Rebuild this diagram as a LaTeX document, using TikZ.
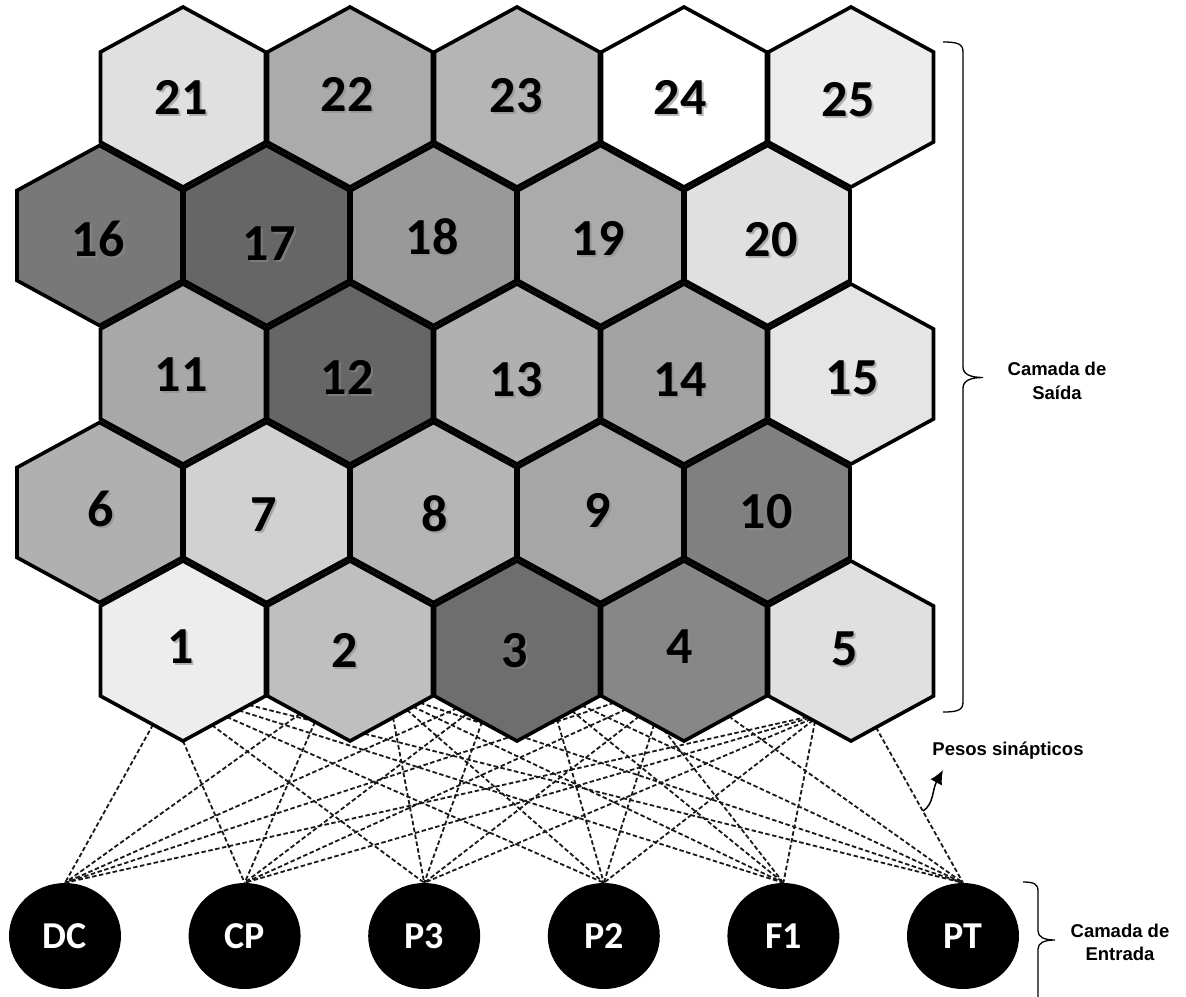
\documentclass[tikz,border=0pt]{standalone}
\usepackage{fontspec}
\setmainfont{Liberation Sans}
\newfontfamily\calib{Carlito}
\usetikzlibrary{shapes.geometric,arrows.meta}
\begin{document}
\begin{tikzpicture}[x=1pt,y=-1pt,
  hexcell/.style={draw=black, line width=3.6pt, line join=miter},
  hexnum/.style={font=\calib\bfseries\fontsize{52}{52}\selectfont, inner sep=0pt},
  hexshadow/.style={hexnum, text=black!45, opacity=0.6},
  innode/.style={ellipse, fill=black, minimum width=112pt, minimum height=106pt, inner sep=0pt, text=white, font=\calib\bfseries\fontsize{38}{38}\selectfont},
  weight/.style={line width=1.8pt, dash pattern=on 4.5pt off 2.5pt, black!90},
  lbl/.style={font=\bfseries\fontsize{18.5}{24}\selectfont, inner sep=0pt, anchor=base},
  bracecurve/.style={line width=1.3pt},
]
\useasboundingbox (0,0) rectangle (1186,996);

% input layer
\foreach \j/\t/\x in {1/DC/65, 2/CP/244.6, 3/P3/424.2, 4/P2/603.8, 5/F1/783.4, 6/PT/963}
  \node[innode] (in\j) at (\x,936) {\t};

% synaptic weights
\foreach \i/\cx/\offs in {1/183/{-30,0,29,44,56,66}, 2/350/{-50,-35,43,57,63,70}, 3/517/{-60,-50,-35,40,55,65}, 4/684/{-70,-58,-45,-30,-20,45}, 5/851/{-44,-42,-40,-38,-36,25}}{
  \foreach \d [count=\j] in \offs {
    \coordinate (w\i\j) at ({\cx+\d},{741-0.545*abs(\d)});
    \draw[weight] (w\i\j) -- (in\j.north);
  }
}

% output layer (hexagons)
\foreach \cx/\cy/\g/\n/\lx/\ly in {
  183/651/7/1/181/647, 350/651/25/2/345/650, 517/651/57/3/515/651, 684/651/47/4/680/647, 851/651/12/5/845/649,
  99.5/512.5/31/6/101/509, 266.5/512.5/18/7/264/515, 433.5/512.5/29/8/435/514, 600.5/512.5/35/9/598/510, 767.5/512.5/50/10/766/512,
  183/374/34/11/181/375, 350/374/60/12/347/377, 517/374/31/13/516/380, 684/374/36/14/680/380, 851/374/10/15/852/378,
  99.5/235.5/53/16/98/239, 266.5/235.5/60/17/269/244, 433.5/235.5/40/18/432/237, 600.5/235.5/33/19/598/238, 767.5/235.5/12/20/771/240,
  183/97/12/21/181/97, 350/97/33/22/347/94, 517/97/29/23/516/96, 684/97/0/24/680/97, 851/97/7/25/848/100}{
  \path[hexcell, fill=black!\g] (\cx,\cy-90) -- (\cx+82.5,\cy-45) -- (\cx+82.5,\cy+45) -- (\cx,\cy+90) -- (\cx-82.5,\cy+45) -- (\cx-82.5,\cy-45) -- cycle;
  \node[hexshadow] (s\n) at (\lx+2,\ly+2) {\n};
  \node[hexnum] (h\n) at (\lx,\ly) {\n};
}

% braces
\coordinate (bA) at (943,42);
\coordinate (bB) at (943,712);
\draw[bracecurve] (bA) .. controls (958,42) and (963,44) .. (963,52) -- (963,367)
  .. controls (963,374) and (970,377.5) .. (983,377.5)
  .. controls (970,377.5) and (963,381) .. (963,388) -- (963,702)
  .. controls (963,710) and (958,712) .. (bB);
\coordinate (cA) at (1023,882);
\coordinate (cB) at (1038,998);
\draw[bracecurve] (cA) .. controls (1034,882) and (1038,884) .. (1038,891) -- (1038,931)
  .. controls (1038,937) and (1044,940) .. (1055,940)
  .. controls (1044,940) and (1038,943) .. (1038,949) -- (cB);

% arrow
\coordinate (arT) at (923,811);
\coordinate (arH) at (943,770);
\draw[line width=1.5pt, -{Latex[length=14pt,width=13pt]}] (arT) .. controls (934,804) and (932,790) .. (arH);

% labels
\node[lbl] (saida1) at (1057,375) {Camada de};
\node[lbl] (saida2) at (1057,399) {Saída};
\node[lbl] (pesos) at (1008,755) {Pesos sinápticos};
\node[lbl] (entr1) at (1120,937) {Camada de};
\node[lbl] (entr2) at (1120,960) {Entrada};
\end{tikzpicture}
\end{document}
